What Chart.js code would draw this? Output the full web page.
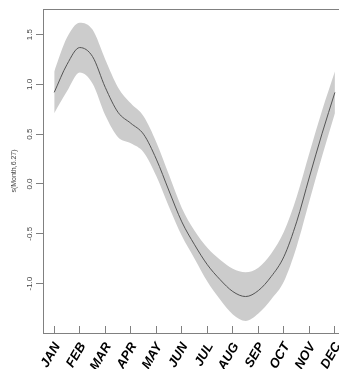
<!DOCTYPE html>
<html>
<head>
<meta charset="utf-8">
<script src="https://cdn.jsdelivr.net/npm/chart.js@4.4.0/dist/chart.umd.min.js"></script>
<style>
    html, body { margin: 0; padding: 0; background: #fff; overflow: hidden; }
    #wrap { width: 339px; height: 369px; }
</style>
</head>
<body>
<div id="wrap"><canvas id="gamChart" width="339" height="369"></canvas></div>
<script>
// smooth term s(Month,6.27) with +/- 2 SE band
const monthLabels = ['JAN', 'FEB', 'MAR', 'APR', 'MAY', 'JUN', 'JUL', 'AUG', 'SEP', 'OCT', 'NOV', 'DEC'];
const monthTicks = [1, 2, 3, 4, 5, 6, 7, 8, 9, 10, 11, 12];
const yTickValues = [-1.0, -0.5, 0.0, 0.5, 1.0, 1.5];

const monthX = [1, 1.5, 2, 2.5, 3, 3.5, 4, 4.5, 5, 5.5, 6, 6.5, 7, 7.5, 8, 8.5, 9, 9.5, 10, 10.5, 11, 11.5, 12];
const fitValues = [0.92, 1.20, 1.37, 1.28, 0.97, 0.72, 0.61, 0.50, 0.25, -0.07, -0.38, -0.61, -0.81, -0.96, -1.08, -1.13, -1.07, -0.93, -0.73, -0.38, 0.07, 0.51, 0.92];
const upperValues = [1.13, 1.47, 1.62, 1.55, 1.25, 0.97, 0.81, 0.68, 0.42, 0.09, -0.24, -0.47, -0.64, -0.76, -0.85, -0.885, -0.84, -0.70, -0.48, -0.13, 0.31, 0.74, 1.13];
const lowerValues = [0.71, 0.93, 1.12, 1.01, 0.69, 0.47, 0.41, 0.32, 0.08, -0.23, -0.52, -0.75, -0.98, -1.16, -1.31, -1.375, -1.30, -1.16, -0.98, -0.63, -0.17, 0.28, 0.71];

const axisColor = '#808080';
const fontFamily = "'Liberation Sans', Arial, sans-serif";

function toPoints(values) {
    return values.map((v, i) => ({ x: monthX[i], y: v }));
}

// top edge of the plot box
const framePlugin = {
    id: 'frame',
    afterDraw(chart) {
        const { ctx, chartArea } = chart;
        const y = Math.round(chartArea.top) + 0.5;
        ctx.save();
        ctx.strokeStyle = axisColor;
        ctx.lineWidth = 1;
        ctx.beginPath();
        ctx.moveTo(chartArea.left, y);
        ctx.lineTo(chartArea.right, y);
        ctx.stroke();
        ctx.restore();
    }
};

const ctx = document.getElementById('gamChart').getContext('2d');
new Chart(ctx, {
    type: 'line',
    data: {
        datasets: [
            {
                label: 'fit',
                data: toPoints(fitValues),
                borderColor: '#555555',
                borderWidth: 1,
                pointRadius: 0,
                fill: false,
                cubicInterpolationMode: 'monotone',
                order: 0
            },
            {
                label: 'upper',
                data: toPoints(upperValues),
                borderWidth: 0,
                borderColor: 'rgba(0, 0, 0, 0)',
                backgroundColor: '#cccccc',
                pointRadius: 0,
                fill: '+1',
                cubicInterpolationMode: 'monotone',
                order: 1
            },
            {
                label: 'lower',
                data: toPoints(lowerValues),
                borderWidth: 0,
                borderColor: 'rgba(0, 0, 0, 0)',
                pointRadius: 0,
                fill: false,
                cubicInterpolationMode: 'monotone',
                order: 2
            }
        ]
    },
    options: {
        responsive: false,
        animation: false,
        devicePixelRatio: 1,
        layout: { padding: { top: 9, right: 0, bottom: 0, left: 0 } },
        plugins: {
            legend: { display: false },
            tooltip: { enabled: false }
        },
        scales: {
            x: {
                type: 'linear',
                min: 0.56,
                max: 12.16,
                afterBuildTicks: (scale) => { scale.ticks = monthTicks.map(v => ({ value: v })); },
                afterFit: (scale) => { scale.height = 36; scale.paddingLeft = 0; scale.paddingRight = 0; },
                grid: { drawOnChartArea: false, tickLength: -7, color: axisColor },
                border: { display: true, color: axisColor },
                ticks: {
                    autoSkip: false,
                    minRotation: 60,
                    maxRotation: 60,
                    padding: 14,
                    labelOffset: 3,
                    color: '#000',
                    font: { family: fontFamily, size: 13, weight: 'bold', style: 'italic' },
                    callback: (value) => monthLabels[value - 1]
                }
            },
            y: {
                min: -1.496,
                max: 1.757,
                afterBuildTicks: (scale) => { scale.ticks = yTickValues.map(v => ({ value: v })); },
                afterFit: (scale) => { scale.width = 43; },
                grid: { drawOnChartArea: false, tickLength: 7, color: axisColor },
                border: { display: true, color: axisColor },
                ticks: {
                    minRotation: 90,
                    maxRotation: 90,
                    crossAlign: 'center',
                    padding: -1,
                    color: '#444',
                    font: { family: fontFamily, size: 8 },
                    callback: (value) => value.toFixed(1)
                },
                title: {
                    display: true,
                    text: 's(Month,6.27)',
                    color: '#444',
                    font: { family: fontFamily, size: 7 },
                    padding: { top: 10, bottom: 0 }
                }
            }
        }
    },
    plugins: [framePlugin]
});
</script>
</body>
</html>
